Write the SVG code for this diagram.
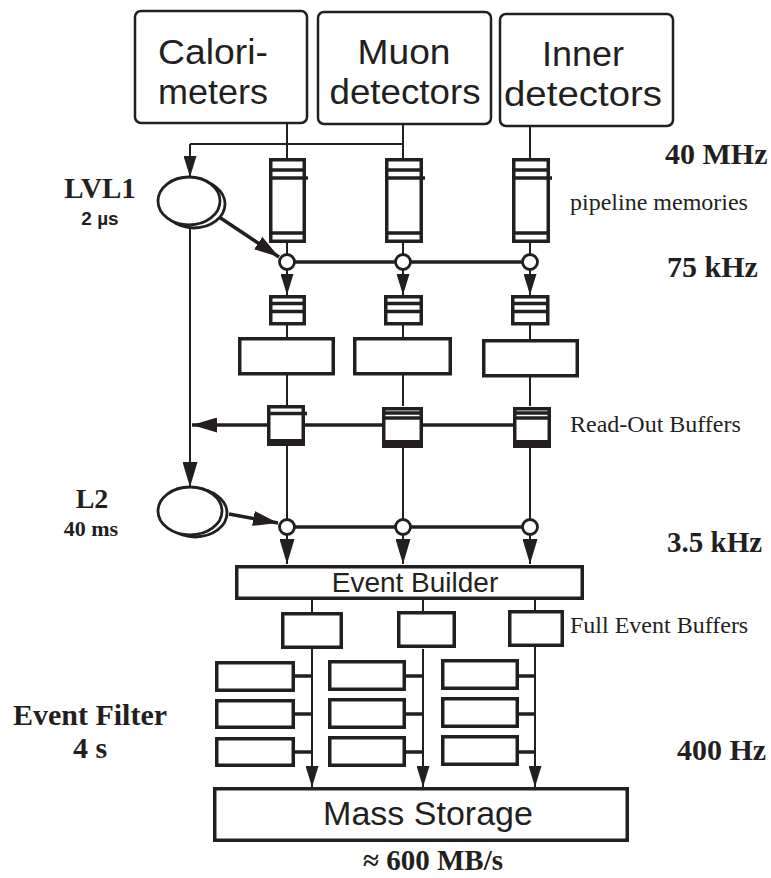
<svg xmlns="http://www.w3.org/2000/svg" width="771" height="878" viewBox="0 0 771 878">
<style>
.ln{stroke:#231f20;stroke-width:2;fill:none}
.lt{stroke:#231f20;stroke-width:3.5;fill:none}
.tk{stroke:#231f20;stroke-width:3.5;fill:#fff}
.db{stroke:#231f20;stroke-width:2.5;fill:#fff}
.el{stroke:#231f20;stroke-width:2.8;fill:#fff}
.fill{fill:#231f20}
.sans{font-family:"Liberation Sans",Arial,sans-serif;fill:#231f20}
.big{font-size:35.5px;text-anchor:middle}
.tb{font-family:"Liberation Serif","Times New Roman",serif;font-weight:bold;fill:#231f20}
.tr{font-family:"Liberation Serif","Times New Roman",serif;font-size:24px;fill:#231f20}
</style>
<defs>
<marker id="ah" viewBox="0 0 21 13" refX="21" refY="6.5" markerWidth="21" markerHeight="13" markerUnits="userSpaceOnUse" orient="auto">
<path d="M0,0 L21,6.5 L0,13 z" fill="#231f20"/>
</marker>
<marker id="ahl" viewBox="0 0 25 15" refX="25" refY="7.5" markerWidth="25" markerHeight="15" markerUnits="userSpaceOnUse" orient="auto">
<path d="M0,0 L25,7.5 L0,15 z" fill="#231f20"/>
</marker>
</defs>

<g id="connectors">
<path class="ln" d="M287,123V158M403,124V158M530,126V158"/>
<path class="ln" d="M190,144H403"/>
<path class="ln" d="M190,144V177" marker-end="url(#ah)"/>
<path class="ln" d="M190,226V487" marker-end="url(#ahl)"/>
<path class="lt" d="M216,215L279,257" marker-end="url(#ahl)"/>
<path class="ln" d="M287,243V262M403,243V262M530,243V262"/>
<path class="lt" d="M287,262H530"/>
<path class="ln" d="M287,270V295" marker-end="url(#ah)"/>
<path class="ln" d="M403,270V295" marker-end="url(#ah)"/>
<path class="ln" d="M530,270V295" marker-end="url(#ah)"/>
<path class="ln" d="M287,325V338M403,325V338M530,325V339"/>
<path class="ln" d="M287,375V405M403,375V406M530,377V406"/>
<path class="lt" d="M530,425H192" marker-end="url(#ahl)"/>
<path class="ln" d="M287,446V527M403,447V527M530,447V527"/>
<path class="lt" d="M287,527H530"/>
<path class="lt" d="M229,514L278,523" marker-end="url(#ahl)"/>
<path class="ln" d="M287,535V564" marker-end="url(#ahl)"/>
<path class="ln" d="M403,535V564" marker-end="url(#ahl)"/>
<path class="ln" d="M530,535V564" marker-end="url(#ahl)"/>
<path class="ln" d="M312,600V612M423,600V612M535,600V611"/>
<path class="ln" d="M312,649V787" marker-end="url(#ah)"/>
<path class="ln" d="M423,649V787" marker-end="url(#ah)"/>
<path class="ln" d="M535,647V787" marker-end="url(#ah)"/>
<path class="lt" d="M295,676H312M295,714H312M295,752H312M406,676H423M406,714H423M406,752H423M518,676H535M518,714H535M518,752H535"/>
</g>

<g id="calorimeters">
<rect class="db" x="135" y="11" width="172" height="112" rx="6"/>
<text class="sans big" x="213" y="64" textLength="110" lengthAdjust="spacingAndGlyphs">Calori-</text>
<text class="sans big" x="213" y="104" textLength="110" lengthAdjust="spacingAndGlyphs">meters</text>
</g>
<g id="muon">
<rect class="db" x="318" y="12" width="173" height="112" rx="6"/>
<text class="sans big" x="404" y="64" textLength="93" lengthAdjust="spacingAndGlyphs">Muon</text>
<text class="sans big" x="405" y="104" textLength="151" lengthAdjust="spacingAndGlyphs">detectors</text>
</g>
<g id="inner">
<rect class="db" x="500" y="14" width="173" height="112" rx="6"/>
<text class="sans big" x="583" y="66" textLength="82" lengthAdjust="spacingAndGlyphs">Inner</text>
<text class="sans big" x="583" y="106" textLength="158" lengthAdjust="spacingAndGlyphs">detectors</text>
</g>

<g id="lvl1">
<ellipse class="el" cx="194" cy="204" rx="31" ry="24"/>
<ellipse class="el" cx="189" cy="201" rx="31" ry="24"/>
<text class="tb" x="100" y="198" font-size="29" text-anchor="middle">LVL1</text>
<text class="sans" x="100" y="225" font-size="19" font-weight="bold" text-anchor="middle">2 µs</text>
</g>

<g id="pipelines">
<g id="pipe1">
<rect class="tk" x="270.75" y="159.75" width="33.5" height="81.5"/>
<path class="lt" d="M271,170H304M271,178H308M271,233H304" stroke-width="2.8"/>
</g>
<g id="pipe2">
<rect class="tk" x="386.75" y="159.75" width="34.5" height="81.5"/>
<path class="lt" d="M387,170H421M387,178H425M387,233H421" stroke-width="2.8"/>
</g>
<g id="pipe3">
<rect class="tk" x="513.75" y="159.75" width="34.5" height="81.5"/>
<path class="lt" d="M514,170H548M514,178H552M514,233H548" stroke-width="2.8"/>
</g>
</g>

<g id="l1-nodes">
<circle class="el" cx="287" cy="262" r="7.5"/>
<circle class="el" cx="403" cy="262" r="7.5"/>
<circle class="el" cx="530" cy="262" r="7.5"/>
</g>

<g id="derandomizers">
<g id="buf1"><rect class="tk" x="270.75" y="296.75" width="33.5" height="27"/><path class="lt" d="M271,303.5H304M271,311.5H304" stroke-width="2.6"/></g>
<g id="buf2"><rect class="tk" x="385.75" y="296.75" width="35.5" height="27"/><path class="lt" d="M386,303.5H421M386,311.5H421" stroke-width="2.6"/></g>
<g id="buf3"><rect class="tk" x="512.75" y="296.75" width="35" height="27"/><path class="lt" d="M513,303.5H548M513,311.5H548" stroke-width="2.6"/></g>
</g>

<g id="rods">
<rect class="tk" x="239.75" y="338.75" width="93.5" height="35"/>
<rect class="tk" x="354.75" y="338.75" width="95.5" height="35"/>
<rect class="tk" x="483.75" y="340.75" width="93.5" height="35"/>
</g>

<g id="robs">
<g id="rob1"><rect class="tk" x="268.75" y="406.75" width="34.5" height="36"/><path class="lt" d="M269,413.5H303M303,413.5H307" stroke-width="3.5"/><rect class="fill" x="267" y="439" width="38" height="7"/></g>
<g id="rob2"><rect class="tk" x="383.75" y="408.75" width="37.5" height="35"/><path class="lt" d="M384,413H421M384,418H421" stroke-width="2"/><rect class="fill" x="382" y="440" width="41" height="8"/></g>
<g id="rob3"><rect class="tk" x="514.75" y="408.75" width="34.5" height="35"/><path class="lt" d="M515,413H549M515,418H549" stroke-width="2"/><rect class="fill" x="513" y="440" width="38" height="8"/></g>
</g>

<g id="l2">
<ellipse class="el" cx="195" cy="513" rx="32" ry="24"/>
<ellipse class="el" cx="190" cy="511" rx="32" ry="24"/>
<text class="tb" x="92" y="508" font-size="28" text-anchor="middle">L2</text>
<text class="tb" x="91" y="536" font-size="22" text-anchor="middle">40 ms</text>
</g>

<g id="l2-nodes">
<circle class="el" cx="287" cy="527" r="7.5"/>
<circle class="el" cx="403" cy="527" r="7.5"/>
<circle class="el" cx="530" cy="527" r="7.5"/>
</g>

<g id="event-builder">
<rect class="tk" x="236.75" y="566.75" width="345.5" height="31.5"/>
<text class="sans" x="415" y="592" font-size="28" text-anchor="middle">Event Builder</text>
</g>

<g id="full-event-buffers">
<rect class="tk" x="282.75" y="613.75" width="58.5" height="33.5"/>
<rect class="tk" x="398.75" y="612.75" width="55.5" height="33.5"/>
<rect class="tk" x="509.75" y="611.75" width="52.5" height="33.5"/>
</g>

<g id="event-filter">
<rect class="tk" x="216.75" y="662.75" width="76.5" height="27.5"/>
<rect class="tk" x="216.75" y="700.75" width="76.5" height="26.5"/>
<rect class="tk" x="216.75" y="738.75" width="76.5" height="26.5"/>
<rect class="tk" x="329.75" y="661.75" width="74.5" height="27.5"/>
<rect class="tk" x="329.75" y="699.75" width="74.5" height="27.5"/>
<rect class="tk" x="329.75" y="737.75" width="74.5" height="27.5"/>
<rect class="tk" x="442.75" y="660.75" width="74.5" height="27.5"/>
<rect class="tk" x="442.75" y="698.75" width="74.5" height="27.5"/>
<rect class="tk" x="442.75" y="736.75" width="74.5" height="27.5"/>
<text class="tb" x="90" y="725" font-size="30" text-anchor="middle">Event Filter</text>
<text class="tb" x="90" y="758" font-size="30" text-anchor="middle">4 s</text>
</g>

<g id="mass-storage">
<rect class="tk" x="214.75" y="788.75" width="412.5" height="51.5"/>
<text class="sans" x="428" y="825" font-size="34" text-anchor="middle">Mass Storage</text>
</g>

<g id="labels">
<text class="tb" x="665" y="164" font-size="30">40 MHz</text>
<text class="tr" x="570" y="210">pipeline memories</text>
<text class="tb" x="667" y="277" font-size="30">75 kHz</text>
<text class="tr" x="570" y="432">Read-Out Buffers</text>
<text class="tb" x="667" y="552" font-size="29">3.5 kHz</text>
<text class="tr" x="570" y="633">Full Event Buffers</text>
<text class="tb" x="677" y="760" font-size="30">400 Hz</text>
<text class="tb" x="433" y="870" font-size="29" text-anchor="middle">≈ 600 MB/s</text>
</g>
</svg>
